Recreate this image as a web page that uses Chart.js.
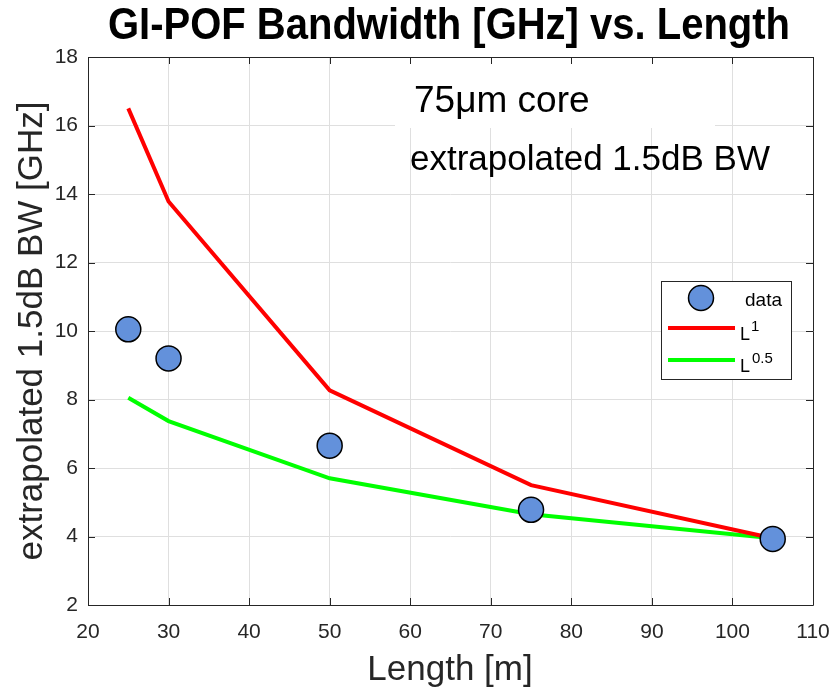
<!DOCTYPE html>
<html>
<head>
<meta charset="utf-8">
<script src="https://cdn.jsdelivr.net/npm/chart.js@4/dist/chart.umd.min.js"></script>
<style>
  html, body { margin: 0; padding: 0; background: #ffffff; }
  #wrap { width: 835px; height: 689px; }
</style>
</head>
<body>
<div id="wrap"><canvas id="c" width="835" height="689"></canvas></div>
<script>
// ---- data ----
const lengths = [25, 30, 50, 75, 105];
const measuredBW = [10.05, 9.2, 6.65, 4.78, 3.93];
const fitL1 = [16.5, 13.78, 8.27, 5.5, 3.95];
const fitL05 = [8.05, 7.37, 5.7, 4.65, 3.95];
const xTickValues = [20, 30, 40, 50, 60, 70, 80, 90, 100, 110];
const yTickValues = [2, 4, 6, 8, 10, 12, 14, 16, 18];
const titleText = 'GI-POF Bandwidth [GHz] vs. Length';
const xTitle = 'Length [m]';
const yTitle = 'extrapolated 1.5dB BW [GHz]';
const note1 = '75\u03BCm core';
const note2 = 'extrapolated 1.5dB BW';
const legendLabels = ['data', 'L', 'L'];
const legendSups = ['', '1', '0.5'];

const FONT = '"Liberation Sans", Arial, Helvetica, sans-serif';
const AXC = '#262626';
const DOT = '#6391db';

const toPts = (ys) => lengths.map((x, i) => ({ x: x, y: ys[i] }));

const decor = {
  id: 'decor',
  beforeDatasetsDraw(chart) {
    const ctx = chart.ctx;
    const a = chart.chartArea;
    // white background of the "75um core" text box (covers grid)
    ctx.save();
    ctx.fillStyle = '#ffffff';
    ctx.fillRect(395, a.top + 1, 320, 128 - a.top - 1);
    ctx.restore();
  },
  afterDraw(chart) {
    const ctx = chart.ctx;
    const a = chart.chartArea;
    const xs = chart.scales.x, ys = chart.scales.y;
    ctx.save();
    // axes box
    ctx.strokeStyle = AXC;
    ctx.lineWidth = 1;
    ctx.beginPath();
    ctx.rect(Math.round(a.left) + 0.5, Math.round(a.top) + 0.5,
             Math.round(a.right - a.left), Math.round(a.bottom - a.top));
    ctx.stroke();
    // inward ticks
    const tl = 7;
    ctx.beginPath();
    xTickValues.forEach(v => {
      const px = Math.round(xs.getPixelForValue(v)) + 0.5;
      ctx.moveTo(px, a.bottom); ctx.lineTo(px, a.bottom - tl);
      ctx.moveTo(px, a.top); ctx.lineTo(px, a.top + tl);
    });
    yTickValues.forEach(v => {
      const py = Math.round(ys.getPixelForValue(v)) + 0.5;
      ctx.moveTo(a.left, py); ctx.lineTo(a.left + tl, py);
      ctx.moveTo(a.right, py); ctx.lineTo(a.right - tl, py);
    });
    ctx.stroke();

    // title (condensed bold)
    ctx.fillStyle = '#000000';
    ctx.font = 'bold 44px ' + FONT;
    ctx.textBaseline = 'alphabetic';
    ctx.textAlign = 'left';
    const tw = ctx.measureText(titleText).width;
    const target = 682;
    ctx.save();
    ctx.translate(108, 39);
    ctx.scale(target / tw, 1);
    ctx.fillText(titleText, 0, 0);
    ctx.restore();

    // axis titles
    ctx.fillStyle = AXC;
    ctx.font = '35px ' + FONT;
    ctx.textAlign = 'center';
    ctx.fillText(xTitle, 450, 680);
    ctx.save();
    ctx.translate(42, 331);
    ctx.rotate(-Math.PI / 2);
    ctx.fillText(yTitle, 0, 0);
    ctx.restore();

    // annotations
    ctx.fillStyle = '#000000';
    ctx.textAlign = 'left';
    ctx.font = '37px ' + FONT;
    ctx.fillText(note1, 414, 112);
    ctx.font = '35px ' + FONT;
    ctx.fillText(note2, 410, 170);

    // legend
    const L = { x: 661.5, y: 281.5, w: 130, h: 98 };
    ctx.fillStyle = '#ffffff';
    ctx.fillRect(L.x, L.y, L.w, L.h);
    ctx.strokeStyle = AXC;
    ctx.lineWidth = 1;
    ctx.strokeRect(L.x, L.y, L.w, L.h);
    // marker
    ctx.beginPath();
    ctx.arc(701, 298, 12.5, 0, Math.PI * 2);
    ctx.fillStyle = DOT; ctx.fill();
    ctx.lineWidth = 1.5; ctx.strokeStyle = '#000000'; ctx.stroke();
    // lines
    ctx.lineWidth = 4;
    ctx.strokeStyle = '#ff0000';
    ctx.beginPath(); ctx.moveTo(668, 328); ctx.lineTo(735, 328); ctx.stroke();
    ctx.strokeStyle = '#00ff00';
    ctx.beginPath(); ctx.moveTo(668, 360); ctx.lineTo(735, 360); ctx.stroke();
    // texts
    ctx.fillStyle = '#000000';
    ctx.font = '19px ' + FONT;
    ctx.fillText(legendLabels[0], 745, 306);
    ctx.font = '18px ' + FONT;
    ctx.fillText(legendLabels[1], 740, 340);
    ctx.fillText(legendLabels[2], 740, 372);
    ctx.font = '15px ' + FONT;
    ctx.fillText(legendSups[1], 751, 331);
    ctx.fillText(legendSups[2], 752, 363);
    ctx.restore();
  }
};

new Chart(document.getElementById('c'), {
  type: 'line',
  data: {
    datasets: [
      {
        type: 'scatter',
        label: 'data',
        data: toPts(measuredBW),
        showLine: false,
        pointRadius: 12.5,
        pointHoverRadius: 12.5,
        pointBackgroundColor: DOT,
        pointBorderColor: '#000000',
        pointBorderWidth: 1.5,
        order: 0
      },
      {
        label: 'L1',
        data: toPts(fitL1),
        borderColor: '#ff0000',
        borderWidth: 4,
        pointRadius: 0,
        fill: false,
        tension: 0,
        order: 1
      },
      {
        label: 'L0.5',
        data: toPts(fitL05),
        borderColor: '#00ff00',
        borderWidth: 4,
        pointRadius: 0,
        fill: false,
        tension: 0,
        order: 2
      }
    ]
  },
  options: {
    responsive: false,
    animation: false,
    devicePixelRatio: 1,
    layout: { padding: { top: 57, right: 22, left: 0, bottom: 0 } },
    plugins: {
      legend: { display: false },
      title: { display: false },
      tooltip: { enabled: false }
    },
    scales: {
      x: {
        type: 'linear',
        min: 20, max: 110,
        afterBuildTicks: (s) => { s.ticks = xTickValues.map(v => ({ value: v })); },
        afterFit: (s) => { s.height = 84; s.paddingLeft = 0; s.paddingRight = 0; },
        grid: { color: '#dfdfdf', lineWidth: 1, drawTicks: false },
        border: { display: false },
        ticks: { color: AXC, font: { family: FONT, size: 21 }, padding: 15, maxRotation: 0, autoSkip: false }
      },
      y: {
        type: 'linear',
        min: 2, max: 18,
        afterBuildTicks: (s) => { s.ticks = yTickValues.map(v => ({ value: v })); },
        afterFit: (s) => { s.width = 88; s.paddingTop = 0; s.paddingBottom = 0; },
        grid: { color: '#dfdfdf', lineWidth: 1, drawTicks: false },
        border: { display: false },
        ticks: { color: AXC, font: { family: FONT, size: 21 }, padding: 10, autoSkip: false }
      }
    }
  },
  plugins: [decor]
});
</script>
</body>
</html>
